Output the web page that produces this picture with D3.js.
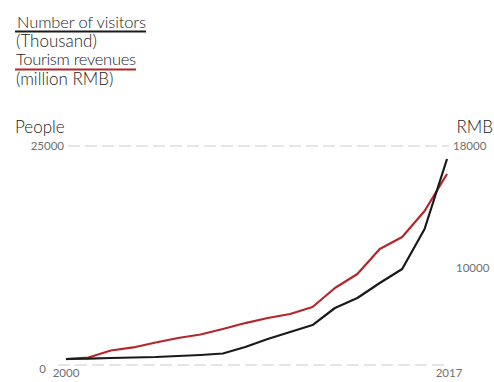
<!DOCTYPE html>
<html>
<head>
<meta charset="utf-8">
<script src="https://cdn.jsdelivr.net/npm/d3@7/dist/d3.min.js"></script>
<style>
  html, body { margin: 0; padding: 0; background: #fff; }
  svg { display: block; font-family: Lato, "Open Sans", sans-serif; }
</style>
</head>
<body>
<svg id="chart" width="494" height="382"></svg>
<script>
// Years on the x axis
const years = d3.range(2000, 2018);
// Number of visitors (thousand)
const visitors = [685, 720, 800, 856, 913, 1027, 1142, 1313, 2055, 2968, 3767, 4566, 6507, 7649, 9361, 10959, 15526, 23517];
// Tourism revenues (million RMB)
const revenues = [4030, 4130, 4590, 4790, 5115, 5410, 5640, 6000, 6390, 6720, 6985, 7445, 8690, 9605, 11245, 12035, 13740, 16165];
// Axis tick labels
const leftTicks = [0, 25000];
const rightTicks = [10000, 18000];
const xTicks = [2000, 2017];

const svg = d3.select("#chart");
const plotTop = 146, plotBottom = 365, plotLeft = 66, plotRight = 447;

const x = d3.scaleLinear().domain([2000, 2017]).range([plotLeft, plotRight]);
const yL = d3.scaleLinear().domain([0, 25000]).range([plotBottom, plotTop]);
const yR = d3.scaleLinear().domain([3640, 18000]).range([plotBottom, plotTop]);

// Legend
const legend = svg.append("g").attr("font-weight", 300).attr("fill", "#222");
legend.append("text").attr("x", 17).attr("y", 28).attr("font-size", 16.5)
  .attr("textLength", 129).text("Number of visitors");
legend.append("line").attr("x1", 15).attr("x2", 146).attr("y1", 31.5).attr("y2", 31.5)
  .attr("stroke", "#1a1a1a").attr("stroke-width", 2.2);
legend.append("text").attr("x", 16).attr("y", 47).attr("font-size", 17).text("(Thousand)");
legend.append("text").attr("x", 16).attr("y", 65).attr("font-size", 16.5)
  .attr("textLength", 120).text("Tourism revenues");
legend.append("line").attr("x1", 15).attr("x2", 136).attr("y1", 69.5).attr("y2", 69.5)
  .attr("stroke", "#b3272a").attr("stroke-width", 2.2);
legend.append("text").attr("x", 16).attr("y", 85).attr("font-size", 17).text("(million RMB)");

// Axis titles
svg.append("text").attr("x", 15).attr("y", 133).attr("font-size", 17).attr("font-weight", 300)
  .attr("fill", "#222").text("People");
svg.append("text").attr("x", 493).attr("y", 133).attr("font-size", 17).attr("font-weight", 300)
  .attr("text-anchor", "end").attr("fill", "#222").text("RMB");

// Dashed grid lines: top and baseline
svg.append("line").attr("x1", 68).attr("x2", 449).attr("y1", yL(25000)).attr("y2", yL(25000))
  .attr("stroke", "#ddd").attr("stroke-width", 1.5).attr("stroke-dasharray", "12,5");
svg.append("line").attr("x1", 58).attr("x2", 446).attr("y1", yL(0)).attr("y2", yL(0))
  .attr("stroke", "#ddd").attr("stroke-width", 1.5).attr("stroke-dasharray", "12,5");

// Left tick labels
svg.selectAll(".lt").data(leftTicks).join("text")
  .attr("x", d => d === 0 ? 46 : 64)
  .attr("y", d => d === 0 ? yL(d) + 3.5 : yL(d))
  .attr("dy", "0.35em").attr("text-anchor", "end")
  .attr("font-size", 11.5).attr("fill", "#6f6f6f").text(d => d);

// Right tick labels
svg.selectAll(".rt").data(rightTicks).join("text")
  .attr("x", d => d === 18000 ? 453 : 456)
  .attr("y", d => yR(d)).attr("dy", "0.35em")
  .attr("font-size", 11.5).attr("fill", "#6f6f6f").text(d => d);

// X tick labels
svg.selectAll(".xt").data(xTicks).join("text")
  .attr("x", d => x(d) + (d === 2000 ? 0 : 2))
  .attr("y", 377).attr("text-anchor", "middle")
  .attr("font-size", 11.5).attr("fill", "#6f6f6f").text(d => d);

// Series lines
const lineL = d3.line().x((d, i) => x(years[i])).y(d => yL(d));
const lineR = d3.line().x((d, i) => x(years[i])).y(d => yR(d));

svg.append("path").datum(revenues).attr("d", lineR)
  .attr("fill", "none").attr("stroke", "#b3272a").attr("stroke-width", 2.2)
  .attr("stroke-linejoin", "round");
svg.append("path").datum(visitors).attr("d", lineL)
  .attr("fill", "none").attr("stroke", "#1a1a1a").attr("stroke-width", 2.2)
  .attr("stroke-linejoin", "round");
</script>
</body>
</html>
